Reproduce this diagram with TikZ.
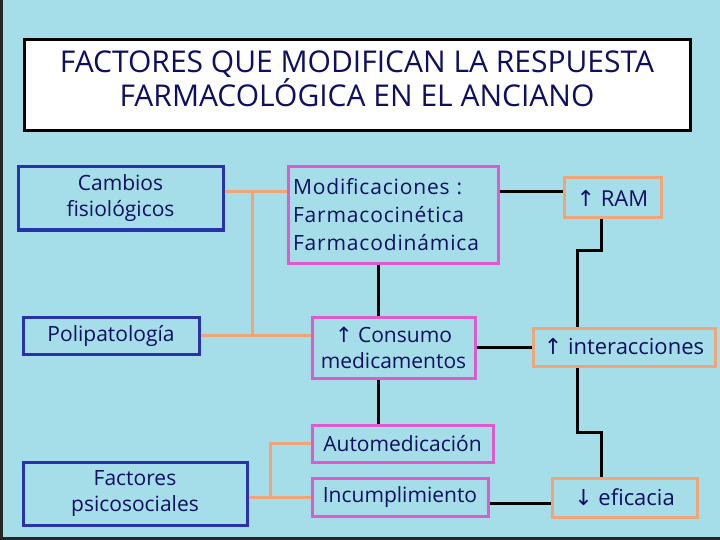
\documentclass[tikz,border=0pt]{standalone}
\usepackage{fontspec}
\setmainfont{Open Sans}
\newfontfamily\symfont{DejaVu Sans}
\definecolor{bgc}{RGB}{165,222,232}
\definecolor{blueb}{RGB}{40,50,170}
\definecolor{pinkb}{RGB}{222,90,205}
\definecolor{orangeb}{RGB}{240,165,120}
\definecolor{txt}{RGB}{15,15,95}
\begin{document}
\begin{tikzpicture}[x=1pt,y=-1pt,
  box/.style={draw, line width=3pt, inner sep=0pt, text=txt, font=\fontsize{21}{26}\selectfont, align=center},
  bluebox/.style={box, draw=blueb},
  pinkbox/.style={box, draw=pinkb},
  orangebox/.style={box, draw=orangeb},
  oline/.style={draw=orangeb, line width=3pt},
  bline/.style={draw=black, line width=3pt}]
\fill[bgc] (0,0) rectangle (720,540);
\fill[black!85] (0,0) rectangle (3,540);
\fill[black!85] (0,537) rectangle (720,540);
\useasboundingbox (0,0) rectangle (720,540);

\node[draw=black, line width=3pt, fill=white, minimum width=666pt, minimum height=91pt, text=txt,
  font=\fontsize{30}{33}\selectfont, align=center, text depth=14pt] (title) at (357,85.5)
  {FACTORES QUE MODIFICAN LA RESPUESTA\\FARMACOLÓGICA EN EL ANCIANO};

\node[bluebox, minimum width=205pt, minimum height=63pt] (cam) at (120.5,198.5) {Cambios\\fisiológicos};
\node[bluebox, minimum width=176pt, minimum height=37pt] (poli) at (111,335.5) {Polipatología};
\node[bluebox, minimum width=224pt, minimum height=63pt] (fac) at (135,493.5) {Factores\\psicosociales};

\node[pinkbox, minimum width=210pt, minimum height=96pt, align=left, text width=200pt,
  font=\fontsize{21}{28}\selectfont\addfontfeatures{LetterSpace=4}] (mod) at (393,215)
  {Modificaciones :\\Farmacocinética\\Farmacodinámica};
\node[pinkbox, minimum width=163pt, minimum height=61pt] (cons) at (393.5,347.5) {{\symfont↑} Consumo\\medicamentos};
\node[pinkbox, minimum width=181pt, minimum height=37pt] (auto) at (402.5,443.5) {Automedicación};
\node[pinkbox, minimum width=176pt, minimum height=38pt] (inc) at (400,497) {Incumplimiento};

\node[orangebox, minimum width=97pt, minimum height=40pt, font=\fontsize{22}{26}\selectfont] (ram) at (612.5,198) {{\symfont↑} RAM};
\node[orangebox, minimum width=182pt, minimum height=38pt, font=\fontsize{22}{26}\selectfont] (inter) at (624,347) {{\symfont↑} interacciones};
\node[orangebox, minimum width=145pt, minimum height=39pt, font=\fontsize{22}{26}\selectfont] (efi) at (624.5,497.5) {{\symfont↓} eficacia};

% orange connectors
\coordinate (j1) at (252,192);
\coordinate (j2) at (252,335.5);
\draw[oline] (cam.east |- j1) -- (mod.west |- j1);
\draw[oline] (j1) -- (j2);
\draw[oline] (poli.east) -- (cons.west |- poli.east);
\coordinate (j4) at (270,497);
\coordinate (j5) at (270,443.5);
\draw[oline] (fac.east |- j4) -- (inc.west |- j4);
\draw[oline] (j4) -- (j5) -- (auto.west |- j5);

% black connectors
\coordinate (j3) at (530,192);
\draw[bline] (mod.east |- j3) -- (ram.west |- j3);
\coordinate (k1) at (601,250);
\coordinate (k2) at (577,250);
\draw[bline] (ram.south -| k1) -- (k1) -- (k2) -- (inter.north -| k2);
\coordinate (k3) at (378,290);
\draw[bline] (mod.south -| k3) -- (cons.north -| k3);
\draw[bline] (cons.south -| k3) -- (auto.north -| k3);
\draw[bline] (cons.east) -- (inter.west |- cons.east);
\coordinate (k4) at (577,432);
\coordinate (k5) at (601,432);
\draw[bline] (inter.south -| k4) -- (k4) -- (k5) -- (efi.north -| k5);
\coordinate (k6) at (520,503);
\draw[bline] (inc.east |- k6) -- (efi.west |- k6);
\end{tikzpicture}
\end{document}
